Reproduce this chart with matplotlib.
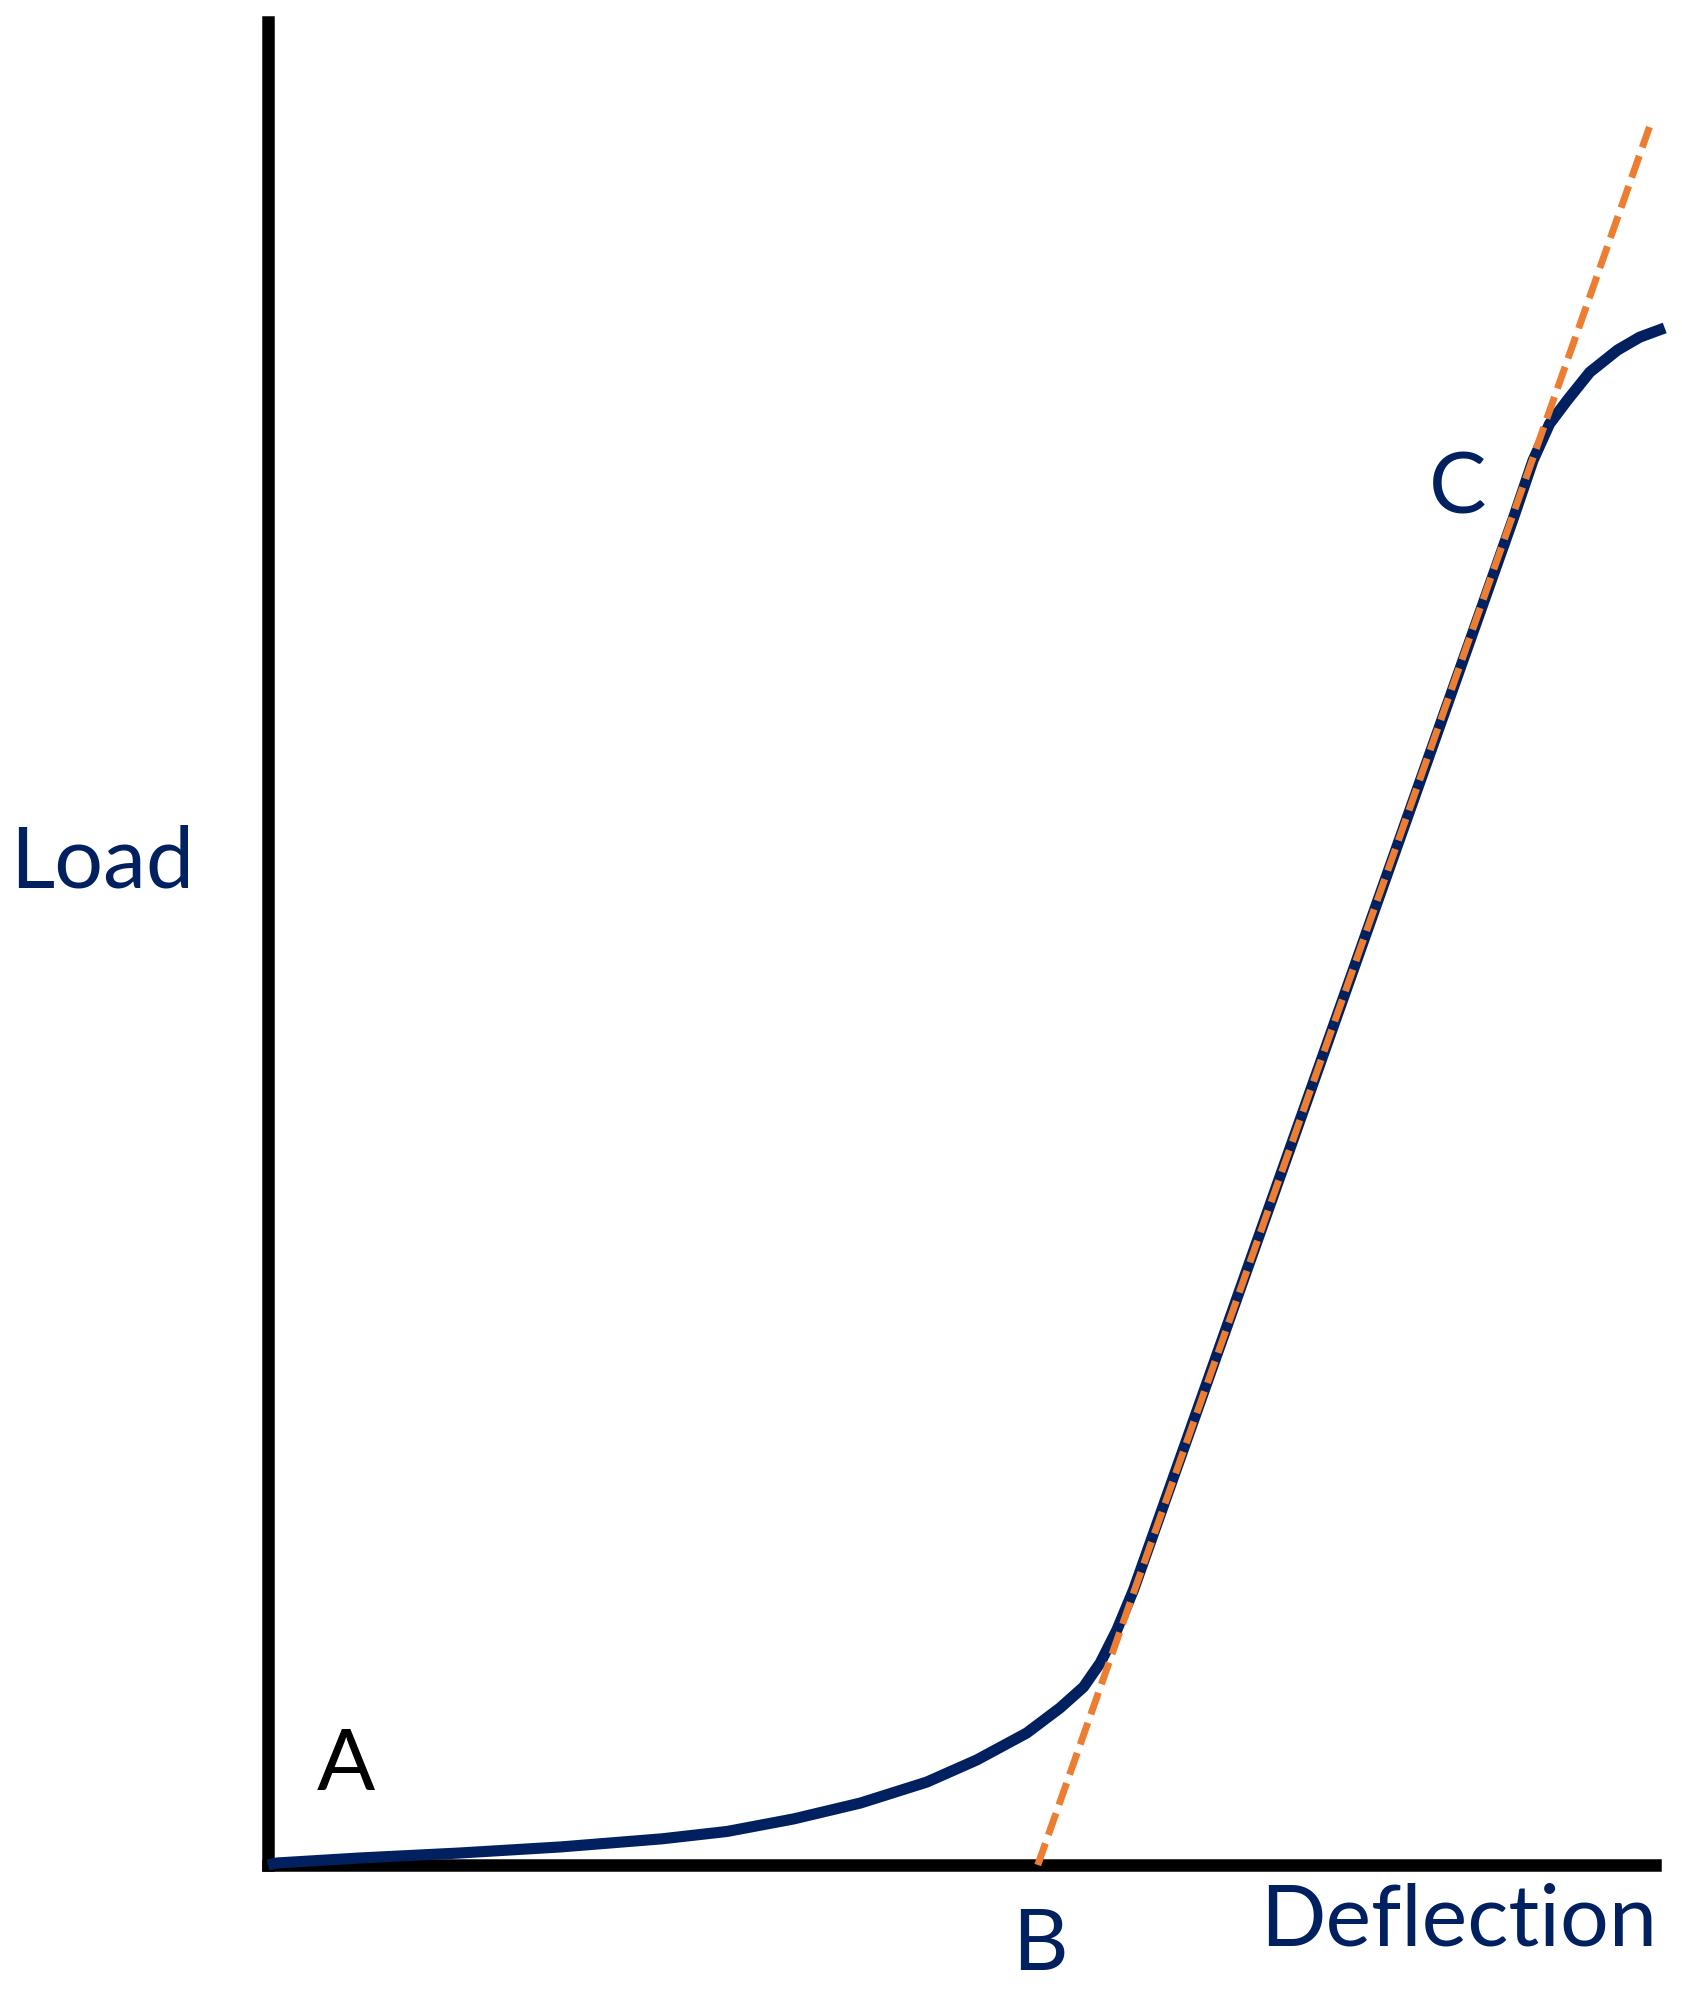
import numpy as np
import matplotlib.pyplot as plt

# Load-deflection curve (axes scaled 0..100)
deflection = [0, 0.65, 6.6, 13.8, 21.1, 28.4, 33.1, 37.9, 42.7, 47.5, 51.1, 54.7,
              57.1, 58.8, 60.0, 61.2, 62.4,
              89.8, 91.2, 92.4, 93.7, 95.3, 97.3, 98.9, 100.7]
load = [0, 0.11, 0.38, 0.65, 0.98, 1.42, 1.82, 2.50, 3.36, 4.50, 5.70, 7.16,
        8.52, 9.66, 10.96, 12.75, 14.92,
        73.1, 76.2, 78.2, 79.5, 81.0, 82.2, 82.9, 83.4]

# Tangent to the linear part (B on the axis, extended upward)
tangent_x = [55.5, 99.6]
tangent_y = [0, 94.3]

navy = '#002060'
orange = '#ED7D31'

W, H = 1682, 1991
fig = plt.figure(figsize=(W / 100, H / 100), dpi=100)
ax = fig.add_axes([268 / W, (H - 1865) / H, (1655 - 268) / W, (1865 - 22) / H])
ax.set_xlim(0, 100)
ax.set_ylim(0, 100)

for s in ['top', 'right']:
    ax.spines[s].set_visible(False)
for s in ['left', 'bottom']:
    ax.spines[s].set_linewidth(9)
    ax.spines[s].set_color('black')
    ax.spines[s].set_capstyle('projecting')
ax.set_xticks([])
ax.set_yticks([])

ax.plot(deflection, load, color=navy, lw=8, solid_capstyle='butt',
        solid_joinstyle='round', clip_on=False, zorder=3)
ax.plot(tangent_x, tangent_y, color=orange, lw=5, linestyle=(0, (3.3, 1.3)),
        dash_capstyle='butt', clip_on=False, zorder=4)

font = 'Lato'
fs = 62
fig.text(10 / W, (H - 888) / H, 'Load', color=navy, fontsize=fs, family=font,
         ha='left', va='baseline')
fig.text(1657 / W, (H - 1945) / H, 'Deflection', color=navy, fontsize=fs, family=font,
         ha='right', va='baseline')
fig.text(346 / W, (H - 1790) / H, 'A', color='black', fontsize=fs, family=font,
         ha='center', va='baseline')
fig.text(1040 / W, (H - 1970) / H, 'B', color=navy, fontsize=fs, family=font,
         ha='center', va='baseline')
fig.text(1458 / W, (H - 514) / H, 'C', color=navy, fontsize=fs, family=font,
         ha='center', va='baseline')

fig.savefig('out.png', dpi=100, facecolor='white')
